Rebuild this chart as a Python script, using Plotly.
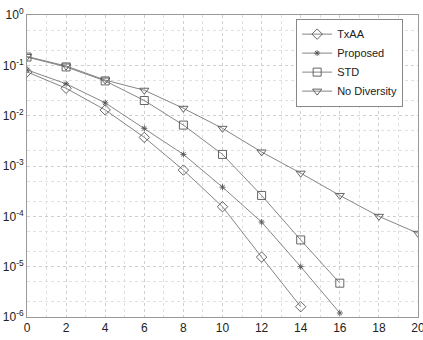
import plotly.graph_objects as go

snr_txaa = [0, 2, 4, 6, 8, 10, 12, 14]
ber_txaa = [0.074, 0.035, 0.013, 0.0037, 8.3e-4, 1.55e-4, 1.55e-5, 1.6e-6]

snr_prop = [0, 2, 4, 6, 8, 10, 12, 14, 16]
ber_prop = [0.081, 0.043, 0.018, 0.0056, 0.0017, 3.8e-4, 7.7e-5, 1.0e-5, 1.2e-6]

snr_std = [0, 2, 4, 6, 8, 10, 12, 14, 16]
ber_std = [0.146, 0.093, 0.049, 0.02, 0.0065, 0.0017, 2.6e-4, 3.4e-5, 4.7e-6]

snr_nd = [0, 2, 4, 6, 8, 10, 12, 14, 16, 18, 20]
ber_nd = [0.15, 0.097, 0.051, 0.032, 0.014, 0.0056, 0.0019, 7.2e-4, 2.6e-4, 1.0e-4, 4.6e-5]

x_ticks = [0, 2, 4, 6, 8, 10, 12, 14, 16, 18, 20]
y_ticks = [1, 1e-1, 1e-2, 1e-3, 1e-4, 1e-5, 1e-6]
y_labels = ["10<sup>0</sup>", "10<sup>-1</sup>", "10<sup>-2</sup>", "10<sup>-3</sup>",
            "10<sup>-4</sup>", "10<sup>-5</sup>", "10<sup>-6</sup>"]

line_col = "#777777"
mk_col = "#555555"

fig = go.Figure()
series = [
    ("TxAA", snr_txaa, ber_txaa, "diamond-open", 8),
    ("Proposed", snr_prop, ber_prop, "asterisk-open", 5),
    ("STD", snr_std, ber_std, "square-open", 8),
    ("No Diversity", snr_nd, ber_nd, "triangle-down-open", 8),
]
for name, x, y, sym, sz in series:
    fig.add_trace(go.Scatter(
        x=x, y=y, name=name, mode="lines+markers",
        line=dict(color=line_col, width=0.9),
        marker=dict(symbol=sym, size=sz, color=mk_col, line=dict(color=mk_col, width=0.9)),
    ))

grid = dict(showgrid=True, gridcolor="#cfcfcf", griddash="dot", gridwidth=1)
fig.update_layout(
    width=423, height=340,
    margin=dict(l=27, r=5, t=15, b=23, autoexpand=False),
    paper_bgcolor="white", plot_bgcolor="white",
    font=dict(family="Liberation Sans, Arial, sans-serif", size=12, color="#222222"),
    showlegend=True,
    legend=dict(x=0.962, y=0.988, xanchor="right", yanchor="top",
                bgcolor="white", bordercolor="#888888", borderwidth=1,
                font=dict(size=11, color="#222222"),
                tracegroupgap=0, itemwidth=30),
)
fig.update_xaxes(
    range=[0, 20], tickvals=x_ticks, ticks="", automargin=False, ticklabeloverflow="allow",
    showline=True, linecolor="#999999", linewidth=1, mirror=True,
    zeroline=False, **grid,
    minor=dict(dtick=1, showgrid=True, gridcolor="#e0e0e0", griddash="dot"),
)
fig.update_yaxes(
    type="log", range=[-6, 0], tickvals=y_ticks, ticktext=y_labels, ticks="", automargin=False,
    ticklabeloverflow="allow",
    showline=True, linecolor="#999999", linewidth=1, mirror=True,
    zeroline=False, **grid,
    minor=dict(showgrid=True, gridcolor="#e0e0e0", griddash="dot"),
)
fig.write_html("out.html", config={"displayModeBar": False},
               post_script="document.body.style.margin='0';")
